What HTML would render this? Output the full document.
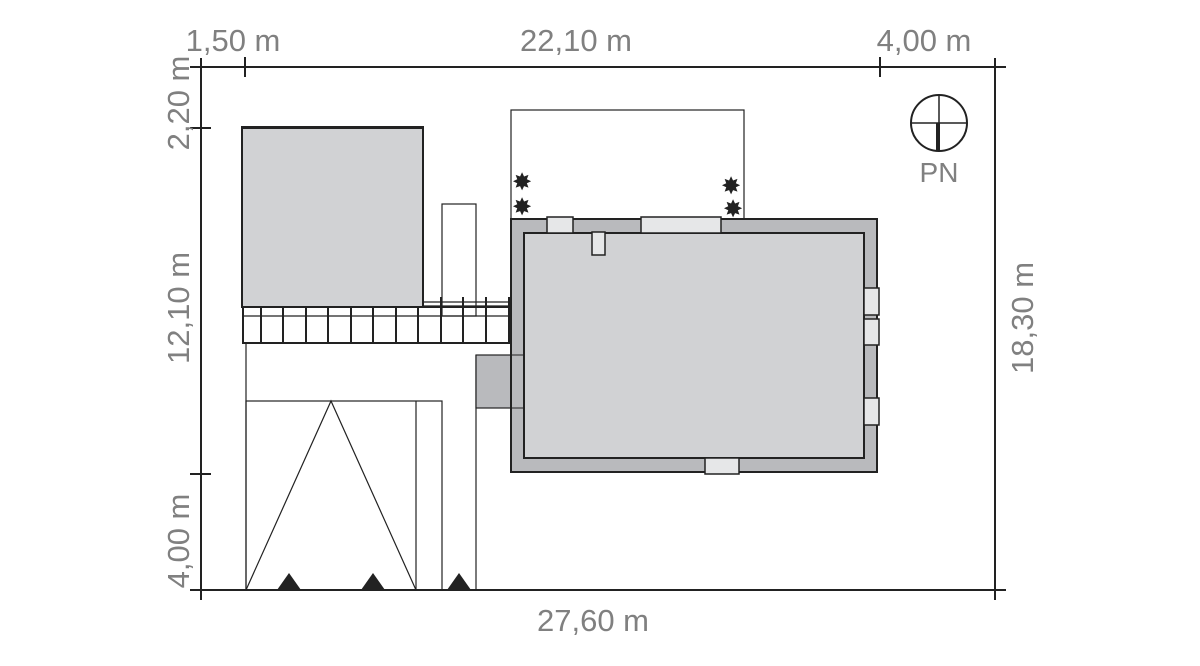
<!DOCTYPE html>
<html><head><meta charset="utf-8"><style>
html,body{margin:0;padding:0;background:#fff;}
svg{display:block;}
text{font-family:"Liberation Sans",sans-serif;fill:#808080;font-size:31px;}
</style></head><body>
<svg width="1200" height="666" viewBox="0 0 1200 666" xmlns="http://www.w3.org/2000/svg">
<g stroke="#222" fill="none" stroke-width="2">
<line x1="190" y1="67" x2="1006" y2="67"/>
<line x1="201" y1="58" x2="201" y2="600"/>
<line x1="995" y1="58" x2="995" y2="600"/>
<line x1="190" y1="590" x2="1006" y2="590"/>
<line x1="245" y1="57" x2="245" y2="77"/>
<line x1="880" y1="57" x2="880" y2="77"/>
<line x1="190" y1="128" x2="211" y2="128"/>
<line x1="190" y1="474" x2="211" y2="474"/>
</g>
<rect x="242" y="127" width="181" height="180" fill="#d1d2d4" stroke="#222" stroke-width="2"/>
<rect x="242" y="126" width="181" height="3" fill="#222"/>
<rect x="442" y="204" width="34" height="112" fill="#fff" stroke="#222" stroke-width="1.2"/>
<g stroke="#222" fill="none">
<rect x="243" y="307" width="267" height="36" stroke-width="2"/>
<line x1="243" y1="316" x2="510" y2="316" stroke-width="1.2"/>
<line x1="423" y1="302" x2="510" y2="302" stroke-width="1.2"/>
<line x1="423" y1="306" x2="510" y2="306" stroke-width="1.2"/>
<g stroke-width="2">
<line x1="261" y1="307" x2="261" y2="343"/>
<line x1="283" y1="307" x2="283" y2="343"/>
<line x1="306" y1="307" x2="306" y2="343"/>
<line x1="328" y1="307" x2="328" y2="343"/>
<line x1="351" y1="307" x2="351" y2="343"/>
<line x1="373" y1="307" x2="373" y2="343"/>
<line x1="396" y1="307" x2="396" y2="343"/>
<line x1="418" y1="307" x2="418" y2="343"/>
<line x1="441" y1="297" x2="441" y2="343"/>
<line x1="463" y1="297" x2="463" y2="343"/>
<line x1="486" y1="297" x2="486" y2="343"/>
<line x1="509" y1="297" x2="509" y2="343"/>
</g>
<line x1="246" y1="343" x2="246" y2="590" stroke-width="1.2"/>
<rect x="246" y="401" width="196" height="189" stroke-width="1.2"/>
<line x1="416" y1="401" x2="416" y2="590" stroke-width="1.2"/>
<polyline points="246,590 331,401 416,590" stroke-width="1.2"/>
<line x1="476" y1="355" x2="476" y2="590" stroke-width="1.2"/>
</g>
<polygon points="277,590 289,573 301,590" fill="#222"/>
<polygon points="361,590 373,573 385,590" fill="#222"/>
<polygon points="447,590 459,573 471,590" fill="#222"/>
<rect x="476" y="355" width="35" height="53" fill="#b9babd" stroke="#222" stroke-width="1.2"/>
<rect x="511" y="110" width="233" height="109" fill="#fff" stroke="#222" stroke-width="1.2"/>
<g>
<text x="522" y="190" text-anchor="middle" style="fill:#222;font-size:24px">✸</text>
<text x="522" y="215" text-anchor="middle" style="fill:#222;font-size:24px">✸</text>
<text x="731" y="194" text-anchor="middle" style="fill:#222;font-size:24px">✸</text>
<text x="733" y="217" text-anchor="middle" style="fill:#222;font-size:24px">✸</text>
</g>
<rect x="511" y="219" width="366" height="253" fill="#b9babd" stroke="#222" stroke-width="2"/>
<rect x="524" y="233" width="340" height="225" fill="#d1d2d4" stroke="#222" stroke-width="2"/>
<g fill="#e6e7e8" stroke="#222" stroke-width="1.5">
<rect x="547" y="217" width="26" height="16"/>
<rect x="641" y="217" width="80" height="16"/>
<rect x="592" y="232" width="13" height="23"/>
<rect x="864" y="288" width="15" height="27"/>
<rect x="864" y="319" width="15" height="26"/>
<rect x="864" y="398" width="15" height="27"/>
<rect x="705" y="458" width="34" height="16"/>
</g>
<line x1="511" y1="355" x2="524" y2="355" stroke="#222" stroke-width="1"/>
<line x1="511" y1="408" x2="524" y2="408" stroke="#222" stroke-width="1"/>
<circle cx="939" cy="123" r="28" fill="none" stroke="#222" stroke-width="2"/>
<line x1="911" y1="123" x2="967" y2="123" stroke="#222" stroke-width="1.5"/>
<line x1="939" y1="95" x2="939" y2="123" stroke="#222" stroke-width="1.5"/>
<line x1="938" y1="123" x2="938" y2="151" stroke="#222" stroke-width="4"/>
<text x="939" y="182" text-anchor="middle" style="font-size:28px">PN</text>
<text x="233" y="51" text-anchor="middle">1,50 m</text>
<text x="576" y="51" text-anchor="middle">22,10 m</text>
<text x="924" y="51" text-anchor="middle">4,00 m</text>
<text x="593" y="631" text-anchor="middle">27,60 m</text>
<text transform="translate(189,103) rotate(-90)" text-anchor="middle">2,20 m</text>
<text transform="translate(189,308) rotate(-90)" text-anchor="middle">12,10 m</text>
<text transform="translate(189,541) rotate(-90)" text-anchor="middle">4,00 m</text>
<text transform="translate(1033,318) rotate(-90)" text-anchor="middle">18,30 m</text>
</svg>
</body></html>
